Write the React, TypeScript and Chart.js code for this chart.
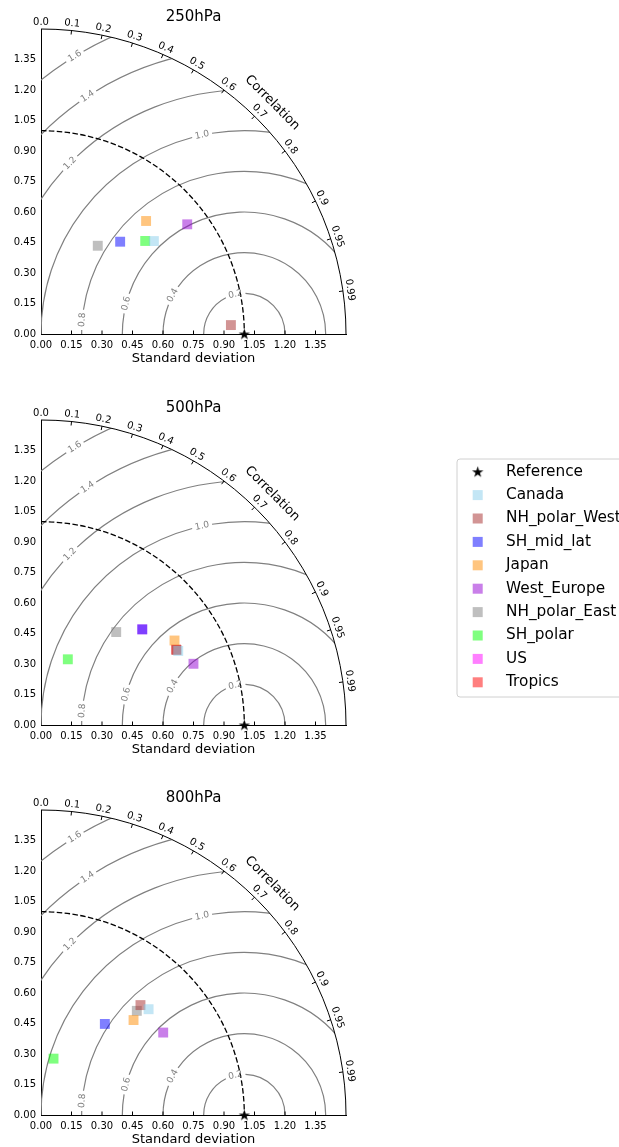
import React, { useEffect, useRef } from 'react';
import { Chart, registerables } from 'chart.js';

Chart.register(...registerables);

// ---------------- data ----------------
const LEVELS = ['250hPa', '500hPa', '800hPa'];
const REGIONS = ['Canada', 'NH_polar_West', 'SH_mid_lat', 'Japan', 'West_Europe', 'NH_polar_East', 'SH_polar', 'US', 'Tropics'];
const REGION_COLORS = ['135,206,235', '165,42,42', '0,0,255', '255,140,0', '148,0,211', '128,128,128', '0,255,0', '255,0,255', '255,0,0'];

const REF_STD = 1.0;

// standard deviation and correlation per region (null = not available)
const STD_250 = [0.719, 0.935, 0.598, 0.759, 0.899, 0.516, 0.687, null, null];
const CORR_250 = [0.772, 0.9989, 0.651, 0.681, 0.800, 0.541, 0.746, null, null];

const STD_500 = [0.767, 0.762, 0.685, 0.777, 0.808, 0.588, 0.349, 0.685, 0.761];
const CORR_500 = [0.880, 0.875, 0.727, 0.845, 0.928, 0.629, 0.378, 0.727, 0.873];

const STD_800 = [0.742, 0.729, 0.547, 0.652, 0.725, 0.696, 0.284, null, null];
const CORR_800 = [0.713, 0.671, 0.574, 0.698, 0.829, 0.677, 0.217, null, null];

const STDS = [STD_250, STD_500, STD_800];
const CORRS = [CORR_250, CORR_500, CORR_800];

const SMAX = 1.5;
const STD_TICKS = [0, 0.15, 0.3, 0.45, 0.6, 0.75, 0.9, 1.05, 1.2, 1.35];
const CORR_TICKS = [0, 0.1, 0.2, 0.3, 0.4, 0.5, 0.6, 0.7, 0.8, 0.9, 0.95, 0.99];
const CORR_LABELS = ['0.0', '0.1', '0.2', '0.3', '0.4', '0.5', '0.6', '0.7', '0.8', '0.9', '0.95', '0.99'];
const RMS_LEVELS = [0.2, 0.4, 0.6, 0.8, 1.0, 1.2, 1.4, 1.6];

// ---------------- style ----------------
const FONT = "'DejaVu Sans', 'Liberation Sans', sans-serif";
const GRID_GRAY = '#808080';
const RMS_LABEL_ANGLES = [102.7, 151.7, 165.5, 175, 102, 135.6, 123.4, 121.4];
const CANVAS_W = 619;
const CANVAS_H = 366;
const PANEL_TOPS = [0, 391, 781];

function makeStar(size: number) {
  const c = document.createElement('canvas');
  c.width = size;
  c.height = size;
  const g = c.getContext('2d')!;
  const cx = size / 2, cy = size / 2 + 0.5;
  const ro = size / 2 - 0.5, ri = ro * 0.382;
  g.beginPath();
  for (let i = 0; i < 10; i++) {
    const a = -Math.PI / 2 + (i * Math.PI) / 5;
    const r = i % 2 ? ri : ro;
    g.lineTo(cx + r * Math.cos(a), cy + r * Math.sin(a));
  }
  g.closePath();
  g.fillStyle = '#000';
  g.fill();
  return c;
}

const STAR = makeStar(13);

const taylorGrid = {
  id: 'taylorGrid',
  beforeDatasetsDraw(chart: any) {
    const { ctx } = chart;
    const xs = chart.scales.x;
    const ys = chart.scales.y;
    const ox = xs.getPixelForValue(0);
    const oy = ys.getPixelForValue(0);
    const k = xs.getPixelForValue(1) - ox;
    const R = SMAX * k;
    const rx = xs.getPixelForValue(REF_STD);

    ctx.save();
    ctx.beginPath();
    ctx.moveTo(ox, oy);
    ctx.arc(ox, oy, R, -Math.PI / 2, 0);
    ctx.closePath();
    ctx.clip();

    // RMS contours with gaps for labels
    ctx.font = `9px ${FONT}`;
    ctx.strokeStyle = GRID_GRAY;
    ctx.lineWidth = 1.2;
    RMS_LEVELS.forEach((lv, i) => {
      const r = lv * k;
      const phi = (RMS_LABEL_ANGLES[i] * Math.PI) / 180;
      const w = ctx.measureText(lv.toFixed(1)).width;
      const g = (w / 2 + 3) / r;
      ctx.beginPath();
      ctx.arc(rx, oy, r, -Math.PI, -(phi + g));
      ctx.stroke();
      ctx.beginPath();
      ctx.arc(rx, oy, r, -(phi - g), 0);
      ctx.stroke();
    });

    // reference std dashed arc
    ctx.setLineDash([5.5, 2.4]);
    ctx.strokeStyle = '#000';
    ctx.lineWidth = 1.3;
    ctx.beginPath();
    ctx.arc(ox, oy, REF_STD * k, -Math.PI / 2, 0);
    ctx.stroke();
    ctx.setLineDash([]);
    ctx.restore();

    // RMS labels
    ctx.save();
    ctx.fillStyle = GRID_GRAY;
    ctx.font = `9px ${FONT}`;
    ctx.textAlign = 'center';
    ctx.textBaseline = 'middle';
    RMS_LEVELS.forEach((lv, i) => {
      const r = lv * k;
      const phi = (RMS_LABEL_ANGLES[i] * Math.PI) / 180;
      ctx.save();
      ctx.translate(rx + r * Math.cos(phi), oy - r * Math.sin(phi));
      ctx.rotate(-(phi - Math.PI / 2));
      ctx.fillText(lv.toFixed(1), 0, 0);
      ctx.restore();
    });
    ctx.restore();

    // outer arc
    ctx.save();
    ctx.strokeStyle = '#000';
    ctx.lineWidth = 1;
    ctx.beginPath();
    ctx.arc(ox, oy, R, -Math.PI / 2, 0);
    ctx.stroke();

    // correlation ticks + labels
    ctx.font = `10px ${FONT}`;
    ctx.fillStyle = '#000';
    ctx.textAlign = 'center';
    ctx.textBaseline = 'middle';
    CORR_TICKS.forEach((c, i) => {
      const th = Math.acos(c);
      const cs = Math.cos(th), sn = Math.sin(th);
      if (c > 0) {
        ctx.beginPath();
        ctx.moveTo(ox + R * cs, oy - R * sn);
        ctx.lineTo(ox + (R - 4) * cs, oy - (R - 4) * sn);
        ctx.stroke();
      }
      ctx.save();
      ctx.translate(ox + (R + 7) * cs, oy - (R + 7) * sn);
      ctx.rotate(Math.PI / 2 - th);
      ctx.fillText(CORR_LABELS[i], 0, 0);
      ctx.restore();
    });

    // axis title along arc
    ctx.font = `13px ${FONT}`;
    const ta = Math.PI / 4;
    ctx.save();
    ctx.translate(ox + (R + 22) * Math.cos(ta), oy - (R + 22) * Math.sin(ta));
    ctx.rotate(Math.PI / 2 - ta);
    ctx.fillText('Correlation', 0, 0);
    ctx.restore();

    // inward x ticks
    STD_TICKS.forEach((v) => {
      if (v === 0) return;
      const px = xs.getPixelForValue(v);
      ctx.beginPath();
      ctx.moveTo(px, oy);
      ctx.lineTo(px, oy - 3.5);
      ctx.stroke();
    });
    ctx.restore();
  },
};

const taylorLegend = {
  id: 'taylorLegend',
  afterDraw(chart: any) {
    const { ctx } = chart;
    const x0 = 457, y0 = 68, w = 220, h = 238, rr = 3;
    ctx.save();
    ctx.beginPath();
    ctx.moveTo(x0 + rr, y0);
    ctx.lineTo(x0 + w - rr, y0);
    ctx.arcTo(x0 + w, y0, x0 + w, y0 + rr, rr);
    ctx.lineTo(x0 + w, y0 + h - rr);
    ctx.arcTo(x0 + w, y0 + h, x0 + w - rr, y0 + h, rr);
    ctx.lineTo(x0 + rr, y0 + h);
    ctx.arcTo(x0, y0 + h, x0, y0 + h - rr, rr);
    ctx.lineTo(x0, y0 + rr);
    ctx.arcTo(x0, y0, x0 + rr, y0, rr);
    ctx.closePath();
    ctx.fillStyle = 'rgba(255,255,255,0.8)';
    ctx.fill();
    ctx.strokeStyle = '#d0d0d0';
    ctx.lineWidth = 1;
    ctx.stroke();

    ctx.font = `15.3px ${FONT}`;
    ctx.textAlign = 'left';
    ctx.textBaseline = 'middle';
    chart.data.datasets.forEach((ds: any, i: number) => {
      const y = 80.7 + i * 23.4;
      if (ds.pointStyle === STAR) {
        ctx.drawImage(STAR, 477.7 - STAR.width / 2, y - STAR.height / 2);
      } else {
        ctx.fillStyle = ds.backgroundColor;
        ctx.fillRect(477.7 - 5, y - 5, 10, 10);
      }
      ctx.fillStyle = '#000';
      ctx.fillText(ds.label, 506, y);
    });
    ctx.restore();
  },
};

function buildConfig(idx: number) {
  const stds = STDS[idx];
  const corrs = CORRS[idx];
  const datasets: any[] = [
    {
      label: 'Reference',
      data: [{ x: REF_STD, y: 0 }],
      pointStyle: STAR,
      pointRadius: 6,
      clip: false,
      backgroundColor: '#000',
      borderWidth: 0,
    },
  ];
  REGIONS.forEach((name, i) => {
    const s = stds[i];
    const c = corrs[i];
    const data = s == null || c == null ? [] : [{ x: s * c, y: s * Math.sqrt(1 - c * c) }];
    datasets.push({
      label: name,
      data,
      pointStyle: 'rect',
      pointRadius: 7,
      backgroundColor: `rgba(${REGION_COLORS[i]},0.5)`,
      borderWidth: 0,
      clip: false,
    });
  });

  const tickFont = { family: FONT, size: 10 };
  return {
    type: 'scatter',
    data: { datasets },
    options: {
      animation: false,
      responsive: false,
      devicePixelRatio: 1,
      events: [],
      layout: { padding: { left: 0, right: CANVAS_W - 346, top: 0, bottom: 0 } },
      plugins: {
        legend: { display: false },
        tooltip: { enabled: false },
        title: {
          display: true,
          text: LEVELS[idx],
          fullSize: false,
          color: '#000',
          font: { family: FONT, size: 15, weight: 'normal', lineHeight: 1.2 },
          padding: { top: 8, bottom: 3 },
        },
      },
      scales: {
        x: {
          type: 'linear',
          min: 0,
          max: SMAX,
          grid: { display: false, drawTicks: false, tickLength: 0 },
          border: { display: true, color: '#000', width: 1 },
          afterBuildTicks: (s: any) => {
            s.ticks = STD_TICKS.map((v) => ({ value: v }));
          },
          afterFit: (s: any) => {
            s.height = 32;
          },
          ticks: {
            callback: (v: any) => Number(v).toFixed(2),
            font: tickFont,
            color: '#000',
            padding: 5,
            maxRotation: 0,
            autoSkip: false,
          },
          title: {
            display: true,
            text: 'Standard deviation',
            color: '#000',
            font: { family: FONT, size: 13, lineHeight: 1.2 },
            padding: { top: 0, bottom: 0 },
          },
        },
        y: {
          type: 'linear',
          min: 0,
          max: SMAX,
          grid: { display: false, drawTicks: false, tickLength: 0 },
          border: { display: true, color: '#000', width: 1 },
          afterBuildTicks: (s: any) => {
            s.ticks = STD_TICKS.map((v) => ({ value: v }));
          },
          afterFit: (s: any) => {
            s.width = 41;
          },
          ticks: {
            callback: (v: any) => Number(v).toFixed(2),
            font: tickFont,
            color: '#000',
            padding: 5,
            autoSkip: false,
          },
        },
      },
    },
    plugins: idx === 1 ? [taylorGrid, taylorLegend] : [taylorGrid],
  };
}

function TaylorPanel({ idx }: { idx: number }) {
  const ref = useRef<HTMLCanvasElement>(null);
  useEffect(() => {
    const chart = new Chart(ref.current as HTMLCanvasElement, buildConfig(idx) as any);
    return () => chart.destroy();
  }, [idx]);
  return (
    <canvas
      ref={ref}
      width={CANVAS_W}
      height={CANVAS_H}
      style={{ position: 'absolute', left: 0, top: PANEL_TOPS[idx], width: CANVAS_W, height: CANVAS_H }}
    />
  );
}

export default function App() {
  return (
    <div style={{ position: 'absolute', left: 0, top: 0, width: 619, height: 1147, overflow: 'hidden', background: '#fff' }}>
      {LEVELS.map((_, i) => (
        <TaylorPanel key={i} idx={i} />
      ))}
    </div>
  );
}
